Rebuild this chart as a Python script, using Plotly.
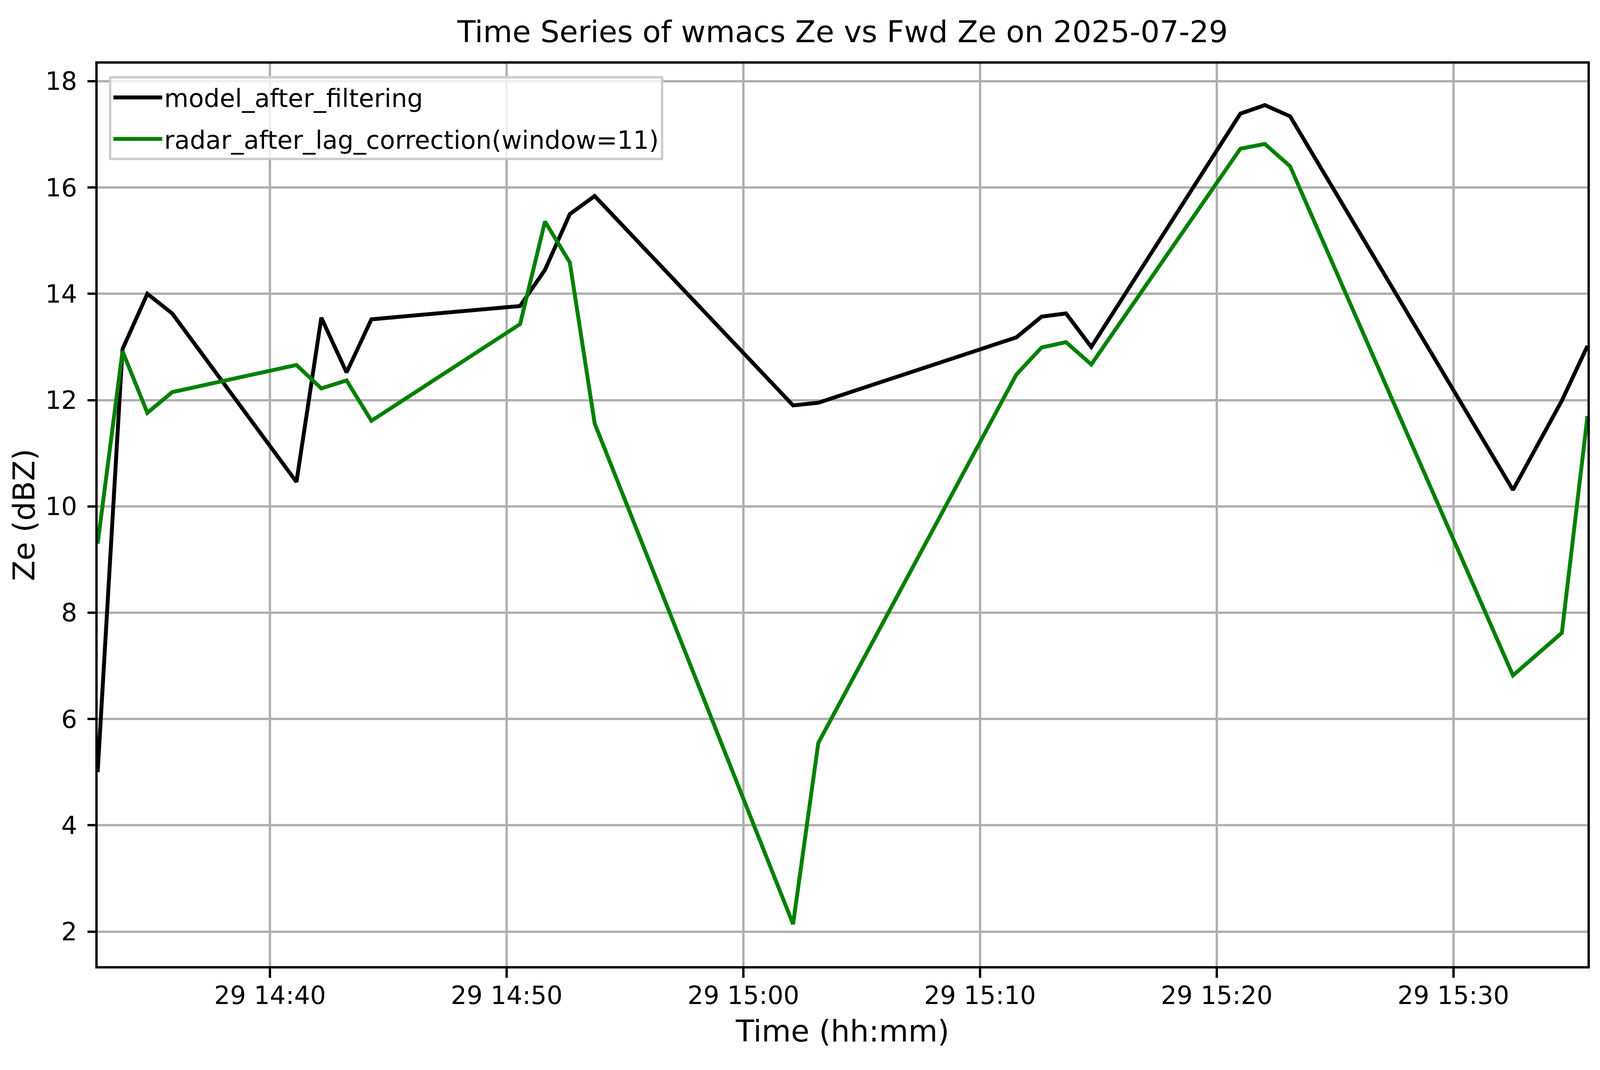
import plotly.graph_objects as go

# values
times = [
    "2025-07-29 14:32:43", "2025-07-29 14:33:46", "2025-07-29 14:34:49", "2025-07-29 14:35:52",
    "2025-07-29 14:41:07", "2025-07-29 14:42:10", "2025-07-29 14:43:14", "2025-07-29 14:44:17",
    "2025-07-29 14:50:34", "2025-07-29 14:51:37", "2025-07-29 14:52:40", "2025-07-29 14:53:43",
    "2025-07-29 15:02:06", "2025-07-29 15:03:10",
    "2025-07-29 15:11:32", "2025-07-29 15:12:36", "2025-07-29 15:13:38", "2025-07-29 15:14:42",
    "2025-07-29 15:21:00", "2025-07-29 15:22:02", "2025-07-29 15:23:06",
    "2025-07-29 15:32:31", "2025-07-29 15:34:35", "2025-07-29 15:35:40",
]
model_ze = [5.00, 12.96, 14.00, 13.63, 10.46, 13.55, 12.52, 13.52,
            13.77, 14.45, 15.50, 15.84, 11.90, 11.95,
            13.18, 13.57, 13.63, 13.00, 17.39, 17.55, 17.34,
            10.31, 11.99, 13.02]
radar_ze = [9.30, 12.92, 11.76, 12.15, 12.66, 12.22, 12.37, 11.61,
            13.43, 15.36, 14.59, 11.56, 2.14, 5.55,
            12.48, 12.99, 13.09, 12.67, 16.73, 16.82, 16.40,
            6.82, 7.62, 11.70]
series_names = ["model_after_filtering", "radar_after_lag_correction(window=11)"]
title_text = "Time Series of wmacs Ze vs Fwd Ze on 2025-07-29"

# the browser viewport is only 4096 px wide, so squeeze the layout horizontally to fit
W, H = 4096, 2740
k = W / 4995
FONT = "DejaVu Sans"
TICK_PX = 64
LABEL_PX = 77

fig = go.Figure()
fig.add_trace(go.Scatter(x=times, y=model_ze, mode="lines", name=series_names[0],
                         legendgroup="model", line=dict(color="black", width=10)))
fig.add_trace(go.Scatter(x=times, y=radar_ze, mode="lines", name=series_names[1],
                         legendgroup="radar", line=dict(color="green", width=10)))

axis_common = dict(
    showline=True, linecolor="black", linewidth=5.6, mirror=True,
    showgrid=True, gridcolor="#b0b0b0", gridwidth=5.6,
    ticks="outside", tickwidth=5.6, tickcolor="black",
    tickfont=dict(family=FONT, size=TICK_PX, color="black"),
    zeroline=False,
)

fig.update_xaxes(
    range=[times[0], times[-1]],
    tick0="2025-07-29 14:40:00", dtick=600000, tickformat="%d %H:%M",
    ticklen=24, ticklabelstandoff=-10,
    title=dict(text="Time (hh:mm)", font=dict(family=FONT, size=LABEL_PX, color="black"), standoff=30),
    **axis_common,
)
fig.update_yaxes(
    range=[1.35, 18.33], dtick=2,
    ticklen=20, ticklabelstandoff=14,
    title=dict(text="Ze (dBZ)", font=dict(family=FONT, size=LABEL_PX, color="black"), standoff=4),
    **axis_common,
)

fig.update_layout(
    width=W, height=H,
    margin=dict(l=round(295 * k), r=round(49 * k), t=155, b=274),
    paper_bgcolor="white", plot_bgcolor="white",
    font=dict(family=FONT, color="black"),
    title=dict(text=title_text, x=0.5, xref="paper", y=1 - 73 / H, yref="container",
               xanchor="center", yanchor="middle",
               font=dict(family=FONT, size=LABEL_PX, color="black")),
    legend=dict(x=0.0077, y=0.986, xanchor="left", yanchor="top",
                bgcolor="rgba(255,255,255,0.8)", bordercolor="#cccccc", borderwidth=6,
                font=dict(family=FONT, size=TICK_PX, color="black"),
                itemwidth=125, traceorder="grouped", tracegroupgap=20),
    showlegend=True,
)

fig.write_html("out.html")
